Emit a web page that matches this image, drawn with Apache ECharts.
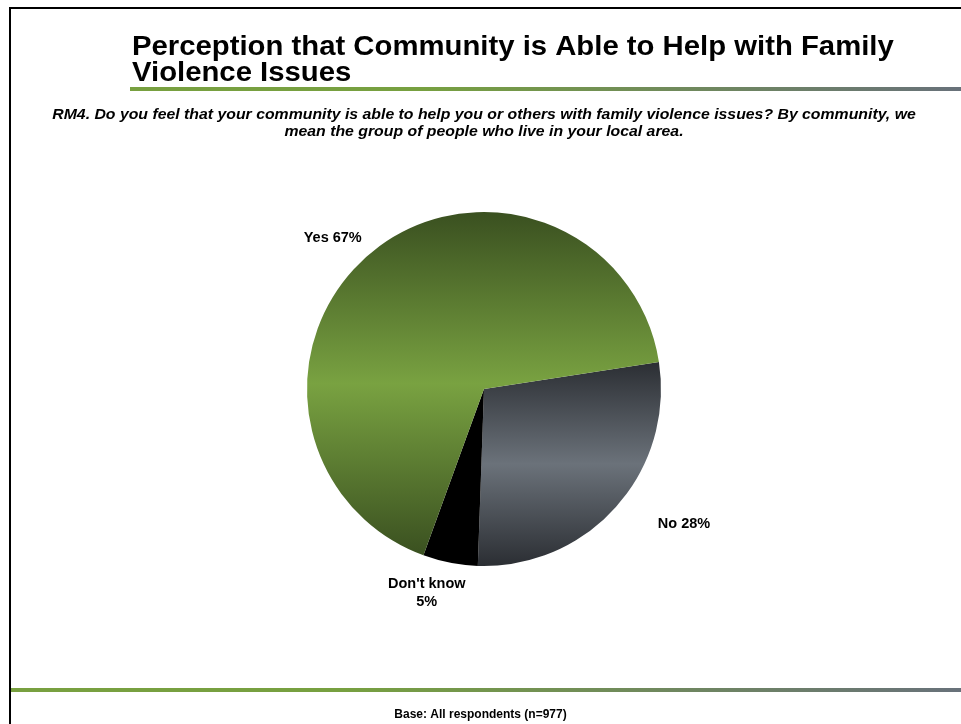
<!DOCTYPE html>
<html>
<head>
<meta charset="utf-8">
<title>Perception that Community is Able to Help with Family Violence Issues</title>
<script src="https://cdn.jsdelivr.net/npm/echarts@6/dist/echarts.min.js"></script>
<style>
  html, body { margin: 0; padding: 0; background: #fff; }
  #chart { width: 961px; height: 724px; }
</style>
</head>
<body>
<div id="chart"></div>
<script>
// Survey answers, in drawing order (clockwise from the start angle)
const categories = ['No', "Don't know", 'Yes'];
const percentages = [28, 5, 67];
const labelTexts = ['No 28%', "Don't know\n5%", 'Yes 67%'];

const titleText = 'Perception that Community is Able to Help with Family\nViolence Issues';
const questionText = 'RM4. Do you feel that your community is able to help you or others with family violence issues? By community, we\nmean the group of people who live in your local area.';
const baseText = 'Base: All respondents (n=977)';

const FONT = '"Liberation Sans", Arial, Helvetica, sans-serif';

function band(dark, light) {
  return {
    type: 'linear', x: 0, y: 0, x2: 0, y2: 1,
    colorStops: [
      { offset: 0, color: dark },
      { offset: 0.5, color: light },
      { offset: 1, color: dark }
    ]
  };
}
const sliceFills = [
  band('#2b2e33', '#6b727a'),
  '#000000',
  band('#3a5020', '#79a241')
];

// nudges for the outside labels so they sit clear of the rim
const labelNudge = [[26, 8], [23, 17], [4, -3]];

function ruleGradient() {
  return {
    type: 'linear', x: 0, y: 0, x2: 1, y2: 0,
    colorStops: [
      { offset: 0, color: '#78a040' },
      { offset: 0.35, color: '#77a040' },
      { offset: 1, color: '#68717a' }
    ]
  };
}

const chart = echarts.init(document.getElementById('chart'), null, { renderer: 'canvas' });

chart.setOption({
  backgroundColor: '#ffffff',
  animation: false,
  title: [
    {
      text: baseText,
      left: 'center', top: 704,
      textStyle: { fontFamily: FONT, fontSize: 12, fontWeight: 'bold', color: '#000' }
    }
  ],
  graphic: [
    { type: 'rect', silent: true, shape: { x: 9, y: 7, width: 2, height: 717 }, style: { fill: '#000' } },
    { type: 'rect', silent: true, shape: { x: 9, y: 7, width: 952, height: 2 }, style: { fill: '#000' } },
    { type: 'rect', silent: true, shape: { x: 130, y: 87, width: 831, height: 4 }, style: { fill: ruleGradient() } },
    { type: 'rect', silent: true, shape: { x: 11, y: 688, width: 950, height: 4 }, style: { fill: ruleGradient() } },
    {
      type: 'text', silent: true,
      x: 132, y: 35, scaleX: 1.085,
      style: {
        text: titleText,
        x: 0, y: 0,
        align: 'left', verticalAlign: 'top',
        font: 'bold 27px ' + FONT,
        lineHeight: 26,
        fill: '#000'
      }
    },
    {
      type: 'text', silent: true,
      x: 484, y: 107, scaleX: 1.13,
      style: {
        text: questionText,
        x: 0, y: 0,
        align: 'center', verticalAlign: 'top',
        font: 'italic bold 14px ' + FONT,
        lineHeight: 17,
        fill: '#000'
      }
    }
  ],
  series: [
    {
      type: 'pie',
      center: [484, 389],
      radius: 177,
      startAngle: 8.8,
      clockwise: true,
      avoidLabelOverlap: false,
      data: categories.map((name, i) => ({
        name: name,
        value: percentages[i],
        itemStyle: { color: sliceFills[i] }
      })),
      label: {
        show: true,
        position: 'outside',
        formatter: p => labelTexts[p.dataIndex],
        fontFamily: FONT,
        fontSize: 14.5,
        fontWeight: 'bold',
        color: '#000',
        lineHeight: 18
      },
      labelLine: { show: false, length: 14, length2: 0 },
      labelLayout: function (p) {
        const r = p.labelRect;
        const n = labelNudge[p.dataIndex];
        return {
          x: r.x + r.width / 2 + n[0],
          y: r.y + r.height / 2 + n[1],
          align: 'center',
          verticalAlign: 'middle'
        };
      },
      emphasis: { disabled: true }
    }
  ]
});
</script>
</body>
</html>
